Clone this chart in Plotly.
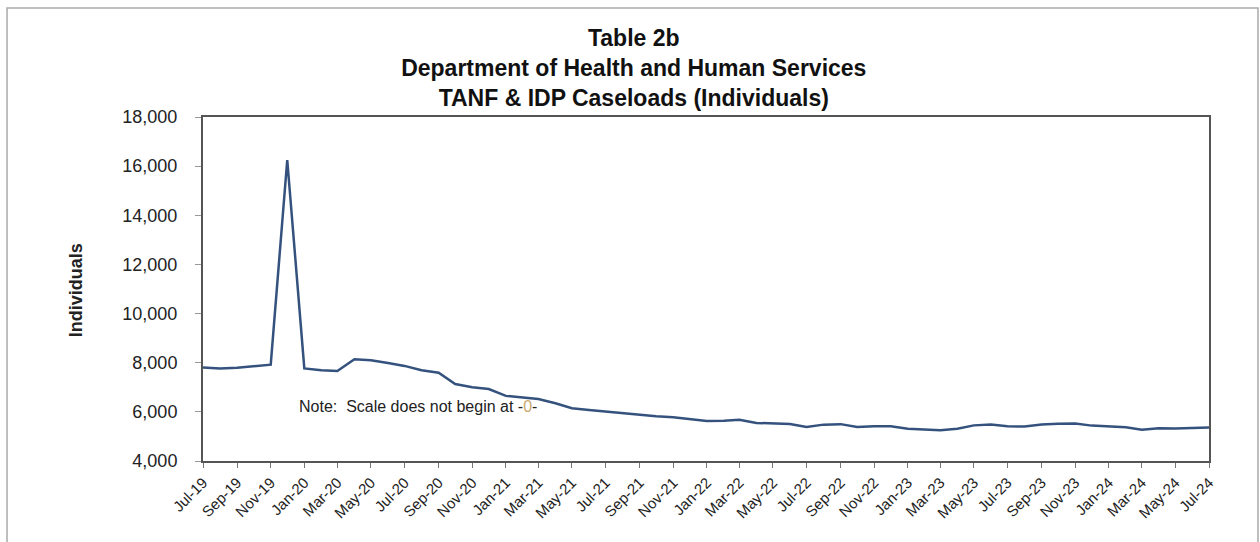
import pandas as pd
import plotly.graph_objects as go

# monthly caseloads, Jul-2019 .. Jul-2024
months = pd.date_range("2019-07-01", periods=61, freq="MS")
individuals = [
    7810, 7760, 7800, 7860, 7920, 16250,                                   # 2019
    7770, 7690, 7660, 8140, 8100, 7990, 7870, 7690, 7590, 7130, 7000, 6930,  # 2020
    6650, 6580, 6520, 6350, 6150, 6080, 6010, 5940, 5880, 5820, 5780, 5700,  # 2021
    5630, 5640, 5680, 5550, 5520, 5510, 5380, 5480, 5500, 5380, 5410, 5410,  # 2022
    5310, 5270, 5250, 5310, 5450, 5490, 5410, 5400, 5490, 5520, 5530, 5440,  # 2023
    5410, 5370, 5270, 5330, 5320, 5350, 5360,                              # 2024
]
y_ticks = [4000, 6000, 8000, 10000, 12000, 14000, 16000, 18000]

title_lines = [
    "Table 2b",
    "Department of Health and Human Services",
    "TANF & IDP Caseloads (Individuals)",
]

font = "Liberation Sans, Arial, sans-serif"

fig = go.Figure()
fig.add_trace(go.Scatter(x=months, y=individuals, mode="lines",
                         line=dict(color="#34527d", width=2.5),
                         showlegend=False))

fig.update_layout(
    width=1260, height=542,
    margin=dict(l=203, r=51, t=117, b=81),
    paper_bgcolor="white", plot_bgcolor="white",
    font=dict(family=font, color="#222"),
    title=dict(text="<br>".join(title_lines), x=0.503, xanchor="center",
               xref="container", y=0.915, yref="container", yanchor="top",
               font=dict(size=23, family=font, color="#111", weight="bold")),
)

fig.update_xaxes(
    range=[months[0], months[-1]], tickformat="%b-%y", dtick="M2",
    tick0=months[0], tickangle=-45, tickfont=dict(size=15, color="#222"),
    showgrid=False, showline=True, mirror=True, linecolor="#555", linewidth=2,
    ticks="outside", ticklen=5, tickcolor="#777",
)
fig.update_yaxes(
    range=[4000, 18000], tickvals=y_ticks, tickformat=",d",
    tickfont=dict(size=18, color="#222"),
    showgrid=False, showline=True, mirror=True, linecolor="#555", linewidth=2,
    ticks="outside", ticklen=6, tickcolor="#999", ticklabelstandoff=14,
)

# y axis title and the note
fig.add_annotation(text="<b>Individuals</b>", textangle=-90, xref="paper", yref="paper",
                   x=-0.126, y=0.497, xanchor="center", yanchor="middle",
                   showarrow=False, font=dict(size=18, color="#222"))
fig.add_annotation(text="Note:  Scale does not begin at -<span style='color:#c9a96e'>0</span>-",
                   xref="paper", yref="paper", x=0.0934, y=0.157, xanchor="left",
                   yanchor="middle", showarrow=False, font=dict(size=16, color="#222"))

# outer frame of the page
fig.add_shape(type="path", xref="paper", yref="paper",
              path="M -0.1948,-0.3 L -0.1948,1.3169 L 1.0487,1.3169 L 1.0487,-0.3",
              line=dict(color="#aaa", width=1.5))

# drop the default 8px body margin so the figure sits at the page origin
fig.write_html("out.html", config={"displayModeBar": False},
               post_script="document.body.style.margin = '0px';")
